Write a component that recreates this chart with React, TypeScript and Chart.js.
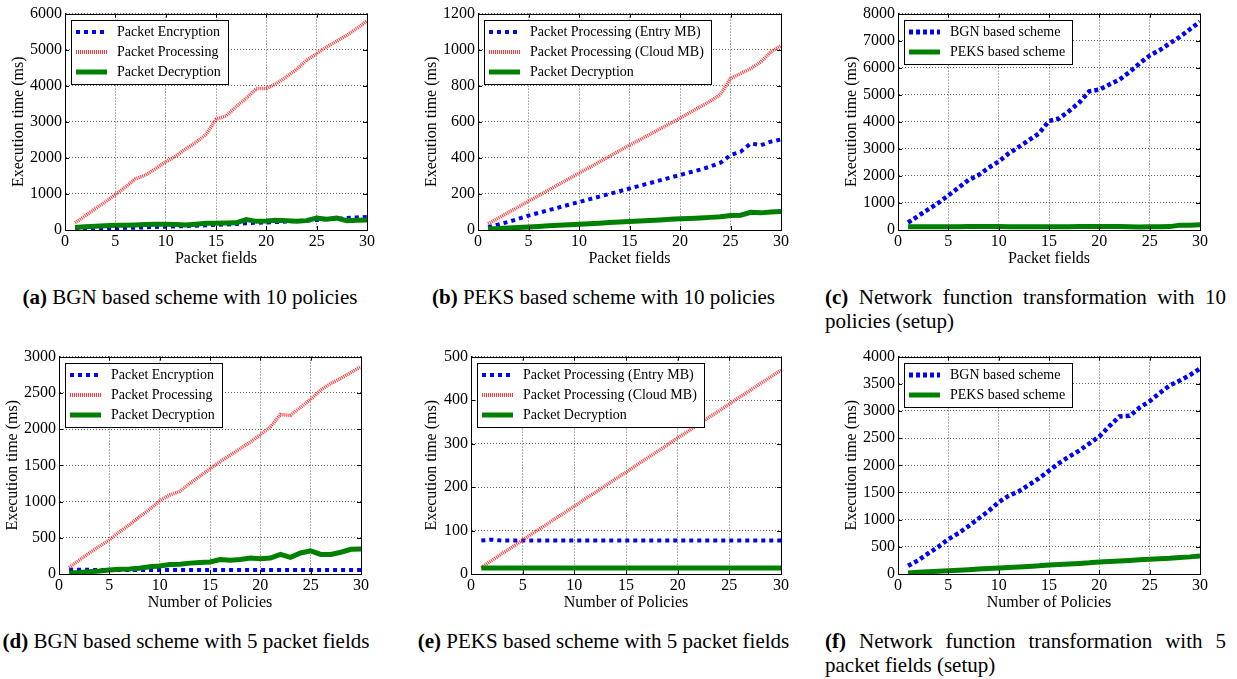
import React, { useEffect, useRef } from "react";
import { Chart, registerables } from "chart.js";

Chart.register(...registerables);
Chart.defaults.font.family = '"Liberation Serif", "Times New Roman", serif';
Chart.defaults.color = "#000";

// ---------- data ----------
const packetFields = [1, 2, 3, 4, 5, 6, 7, 8, 9, 10, 11, 12, 13, 14, 15, 16, 17, 18, 19, 20, 21, 22, 23, 24, 25, 26, 27, 28, 29, 30];
const numPolicies = [1, 2, 3, 4, 5, 6, 7, 8, 9, 10, 11, 12, 13, 14, 15, 16, 17, 18, 19, 20, 21, 22, 23, 24, 25, 26, 27, 28, 29, 30];

// (a) BGN, 10 policies
const aEncryption = [20, 25, 30, 40, 50, 60, 65, 75, 85, 90, 100, 110, 120, 130, 145, 155, 165, 190, 200, 210, 220, 235, 250, 260, 280, 300, 310, 330, 350, 360];
const aProcessing = [200, 390, 590, 780, 980, 1190, 1420, 1520, 1700, 1890, 2050, 2250, 2430, 2650, 3070, 3160, 3420, 3650, 3920, 3920, 4060, 4250, 4450, 4710, 4890, 5080, 5240, 5400, 5590, 5800];
const aDecryption = [70, 90, 105, 120, 130, 135, 140, 150, 160, 160, 150, 140, 160, 185, 190, 195, 200, 290, 240, 250, 270, 260, 240, 260, 330, 300, 330, 260, 270, 280];

// (b) PEKS, 10 policies
const bEntryMB = [15, 30, 45, 62, 80, 95, 110, 125, 140, 155, 170, 185, 200, 215, 230, 245, 260, 275, 290, 305, 320, 335, 352, 373, 415, 434, 480, 470, 490, 502];
const bCloudMB = [35, 65, 97, 128, 160, 190, 222, 253, 284, 315, 346, 377, 408, 439, 470, 500, 530, 560, 590, 620, 652, 683, 714, 751, 840, 868, 895, 932, 988, 1022];
const bDecryption = [5, 8, 11, 14, 17, 20, 23, 26, 29, 32, 35, 38, 41, 44, 47, 50, 53, 56, 59, 62, 64, 67, 70, 73, 80, 82, 98, 95, 100, 102];

// (c) setup, 10 policies
const cBGN = [270, 520, 760, 1000, 1280, 1560, 1850, 2030, 2300, 2530, 2830, 3070, 3320, 3570, 4030, 4120, 4400, 4710, 5130, 5190, 5380, 5560, 5840, 6160, 6450, 6650, 6900, 7140, 7420, 7700];
const cPEKS = [120, 120, 120, 120, 120, 120, 125, 130, 130, 125, 120, 120, 120, 120, 120, 120, 120, 125, 125, 125, 125, 125, 120, 115, 120, 120, 125, 180, 180, 190];

// (d) BGN, 5 packet fields
const dEncryption = [60, 58, 57, 56, 56, 55, 55, 55, 55, 55, 55, 55, 55, 55, 55, 55, 55, 55, 55, 55, 55, 55, 55, 55, 55, 55, 55, 55, 55, 55];
const dProcessing = [90, 190, 290, 380, 470, 580, 680, 790, 890, 1010, 1090, 1140, 1250, 1350, 1450, 1550, 1640, 1730, 1820, 1920, 2030, 2200, 2190, 2300, 2410, 2540, 2630, 2700, 2780, 2860];
const dDecryption = [15, 20, 30, 40, 55, 65, 70, 80, 100, 110, 130, 135, 150, 160, 165, 200, 190, 200, 220, 210, 220, 270, 230, 290, 320, 270, 270, 300, 340, 345];

// (e) PEKS, 5 packet fields
const eEntryMB = [77, 79, 77, 77, 77, 77, 77, 77, 77, 77, 77, 77, 77, 77, 77, 77, 77, 77, 77, 77, 77, 77, 77, 77, 77, 77, 77, 77, 77, 77];
const eCloudMB = [15, 31, 47, 62, 78, 94, 109, 125, 140, 156, 172, 187, 203, 219, 234, 250, 266, 281, 297, 313, 328, 344, 360, 375, 391, 407, 422, 438, 453, 469];
const eDecryption = [14, 14, 14, 14, 14, 14, 14, 14, 14, 14, 14, 14, 14, 14, 14, 14, 14, 14, 14, 14, 14, 14, 14, 14, 14, 14, 14, 14, 14, 14];

// (f) setup, 5 packet fields
const fBGN = [150, 250, 380, 500, 640, 750, 880, 1020, 1160, 1320, 1440, 1520, 1640, 1760, 1900, 2040, 2160, 2270, 2400, 2530, 2720, 2900, 2910, 3060, 3180, 3330, 3470, 3560, 3660, 3780];
const fPEKS = [20, 30, 40, 50, 60, 70, 80, 90, 100, 110, 120, 130, 140, 150, 165, 175, 185, 195, 205, 220, 230, 240, 250, 260, 270, 280, 290, 305, 315, 330];

// ---------- styles ----------
type LineStyle = { color: string; width: number; dash: number[] };
const BLUE_SQ: LineStyle = { color: "#0000ff", width: 4, dash: [4, 4] };
const BLUE_DOT: LineStyle = { color: "#0000ff", width: 4.5, dash: [4, 3] };
const RED: LineStyle = { color: "rgba(255,20,20,0.85)", width: 3.5, dash: [1, 1] };
const GREEN: LineStyle = { color: "#008000", width: 5, dash: [] };
const GRID = "rgba(0,0,0,0.6)";

type Series = { label: string; values: number[]; style: LineStyle };
type PanelSpec = {
  key: string;
  xs: number[];
  xTitle: string;
  yMax: number;
  yStep: number;
  series: Series[];
  plotL: number;
  plotR: number;
  plotT: number;
  plotB: number;
  yAxisW: number;
};

const panels: PanelSpec[] = [
  {
    key: "a", xs: packetFields, xTitle: "Packet fields", yMax: 6000, yStep: 1000,
    series: [
      { label: "Packet Encryption", values: aEncryption, style: BLUE_SQ },
      { label: "Packet Processing", values: aProcessing, style: RED },
      { label: "Packet Decryption", values: aDecryption, style: GREEN },
    ],
    plotL: 65, plotR: 367, plotT: 13, plotB: 230, yAxisW: 56,
  },
  {
    key: "b", xs: packetFields, xTitle: "Packet fields", yMax: 1200, yStep: 200,
    series: [
      { label: "Packet Processing (Entry MB)", values: bEntryMB, style: BLUE_SQ },
      { label: "Packet Processing (Cloud MB)", values: bCloudMB, style: RED },
      { label: "Packet Decryption", values: bDecryption, style: GREEN },
    ],
    plotL: 478, plotR: 781, plotT: 13, plotB: 230, yAxisW: 56,
  },
  {
    key: "c", xs: packetFields, xTitle: "Packet fields", yMax: 8000, yStep: 1000,
    series: [
      { label: "BGN based scheme", values: cBGN, style: BLUE_DOT },
      { label: "PEKS based scheme", values: cPEKS, style: GREEN },
    ],
    plotL: 898, plotR: 1200, plotT: 13, plotB: 230, yAxisW: 56,
  },
  {
    key: "d", xs: numPolicies, xTitle: "Number of Policies", yMax: 3000, yStep: 500,
    series: [
      { label: "Packet Encryption", values: dEncryption, style: BLUE_SQ },
      { label: "Packet Processing", values: dProcessing, style: RED },
      { label: "Packet Decryption", values: dDecryption, style: GREEN },
    ],
    plotL: 59, plotR: 361, plotT: 356, plotB: 574, yAxisW: 56,
  },
  {
    key: "e", xs: numPolicies, xTitle: "Number of Policies", yMax: 500, yStep: 100,
    series: [
      { label: "Packet Processing (Entry MB)", values: eEntryMB, style: BLUE_SQ },
      { label: "Packet Processing (Cloud MB)", values: eCloudMB, style: RED },
      { label: "Packet Decryption", values: eDecryption, style: GREEN },
    ],
    plotL: 471, plotR: 781, plotT: 356, plotB: 574, yAxisW: 49,
  },
  {
    key: "f", xs: numPolicies, xTitle: "Number of Policies", yMax: 4000, yStep: 500,
    series: [
      { label: "BGN based scheme", values: fBGN, style: BLUE_DOT },
      { label: "PEKS based scheme", values: fPEKS, style: GREEN },
    ],
    plotL: 898, plotR: 1200, plotT: 356, plotB: 574, yAxisW: 56,
  },
];

const PAD_T = 12;
const PAD_R = 16;
const X_H = 38;
const FONT = '"Liberation Serif", "Times New Roman", serif';

function framePlugin(p: PanelSpec) {
  return {
    id: "frame_" + p.key,
    afterDraw(chart: any) {
      const ctx = chart.ctx as CanvasRenderingContext2D;
      const ca = chart.chartArea;
      const xs = chart.scales.x;
      const ys = chart.scales.y;
      ctx.save();
      // inward tick marks
      ctx.strokeStyle = "#000";
      ctx.lineWidth = 1;
      ctx.setLineDash([]);
      ctx.beginPath();
      for (let v = 0; v <= 30; v += 5) {
        const px = Math.round(xs.getPixelForValue(v)) + 0.5;
        ctx.moveTo(px, ca.bottom);
        ctx.lineTo(px, ca.bottom - 4);
        ctx.moveTo(px, ca.top);
        ctx.lineTo(px, ca.top + 4);
      }
      for (let v = 0; v <= p.yMax; v += p.yStep) {
        const py = Math.round(ys.getPixelForValue(v)) + 0.5;
        ctx.moveTo(ca.left, py);
        ctx.lineTo(ca.left + 4, py);
        ctx.moveTo(ca.right, py);
        ctx.lineTo(ca.right - 4, py);
      }
      ctx.stroke();
      // frame
      ctx.strokeRect(Math.round(ca.left) + 0.5, Math.round(ca.top) + 0.5, Math.round(ca.right - ca.left), Math.round(ca.bottom - ca.top));

      // legend
      ctx.font = "14px " + FONT;
      let tw = 0;
      p.series.forEach((s) => { tw = Math.max(tw, ctx.measureText(s.label).width); });
      const bx = Math.round(ca.left) + 6;
      const by = Math.round(ca.top) + 6;
      const bw = Math.round(5 + 31 + 10 + tw + 7);
      const bh = 24 + 20 * (p.series.length - 1);
      ctx.fillStyle = "#fff";
      ctx.fillRect(bx, by, bw, bh);
      ctx.strokeStyle = "#000";
      ctx.lineWidth = 1;
      ctx.strokeRect(bx + 0.5, by + 0.5, bw, bh);
      p.series.forEach((s, i) => {
        const yy = by + 12 + 20 * i;
        ctx.beginPath();
        ctx.strokeStyle = s.style.color;
        ctx.lineWidth = Math.round(s.style.width);
        ctx.setLineDash(s.style.dash);
        ctx.lineCap = "butt";
        ctx.moveTo(bx + 5, yy);
        ctx.lineTo(bx + 36, yy);
        ctx.stroke();
        ctx.setLineDash([]);
        ctx.fillStyle = "#000";
        ctx.textBaseline = "middle";
        ctx.textAlign = "left";
        ctx.fillText(s.label, bx + 46, yy + 0.5);
      });
      ctx.restore();
    },
  };
}

function ChartPanel({ p }: { p: PanelSpec }) {
  const ref = useRef<HTMLCanvasElement>(null);
  const left = p.plotL - p.yAxisW;
  const top = p.plotT - PAD_T;
  const width = p.plotR + PAD_R - left;
  const height = p.plotB + X_H - top;

  useEffect(() => {
    if (!ref.current) return;
    const chart = new Chart(ref.current, {
      type: "line",
      data: {
        datasets: p.series.map((s, i) => ({
          label: s.label,
          data: p.xs.map((x, j) => ({ x, y: s.values[j] })),
          borderColor: s.style.color,
          borderWidth: s.style.width,
          borderDash: s.style.dash,
          borderCapStyle: "butt",
          pointRadius: 0,
          tension: 0,
          fill: false,
          order: p.series.length - i,
        })),
      },
      options: {
        responsive: false,
        animation: false,
        events: [],
        layout: { padding: { top: PAD_T, right: PAD_R, left: 0, bottom: 0 } },
        plugins: { legend: { display: false }, tooltip: { enabled: false } },
        scales: {
          x: {
            type: "linear",
            min: 0,
            max: 30,
            ticks: {
              stepSize: 5, padding: 2, font: { size: 16 }, color: "#000", autoSkip: false, maxRotation: 0,
              callback: (v: any) => String(v),
            },
            grid: { color: GRID, lineWidth: 1, drawTicks: false },
            border: { display: true, color: "#000", width: 1, dash: [1, 2] },
            title: { display: true, text: p.xTitle, font: { size: 16 }, padding: 0, color: "#000" },
            afterFit: (s: any) => { s.height = X_H; },
          },
          y: {
            type: "linear",
            min: 0,
            max: p.yMax,
            ticks: {
              stepSize: p.yStep, padding: 3, font: { size: 16 }, color: "#000", autoSkip: false,
              callback: (v: any) => String(v),
            },
            grid: { color: GRID, lineWidth: 1, drawTicks: false },
            border: { display: true, color: "#000", width: 1, dash: [1, 2] },
            title: { display: true, text: "Execution time (ms)", font: { size: 16 }, padding: 0, color: "#000" },
            afterFit: (s: any) => { s.width = p.yAxisW; },
          },
        },
      } as any,
      plugins: [framePlugin(p)],
    });
    return () => chart.destroy();
  }, []);

  return (
    <canvas
      ref={ref}
      width={width}
      height={height}
      style={{ position: "absolute", left, top, width, height }}
    />
  );
}

const captionBase: React.CSSProperties = {
  position: "absolute",
  fontFamily: FONT,
  fontSize: 21,
  lineHeight: "24px",
  color: "#000",
};

export default function App() {
  return (
    <div
      style={{
        position: "fixed",
        left: 0,
        top: 0,
        width: 1237,
        height: 679,
        background: "#fff",
        overflow: "hidden",
      }}
    >
      {panels.map((p) => (
        <ChartPanel key={p.key} p={p} />
      ))}
      <div style={{ ...captionBase, left: 0, top: 285, width: 380, textAlign: "center" }}>
        <b>(a)</b> BGN based scheme with 10 policies
      </div>
      <div style={{ ...captionBase, left: 403, top: 285, width: 401, textAlign: "center" }}>
        <b>(b)</b> PEKS based scheme with 10 policies
      </div>
      <div style={{ ...captionBase, left: 825, top: 285, width: 401, textAlign: "justify", textAlignLast: "left" }}>
        <b>(c)</b> Network function transformation with 10 policies (setup)
      </div>
      <div style={{ ...captionBase, left: 0, top: 629, width: 372, textAlign: "center" }}>
        <b>(d)</b> BGN based scheme with 5 packet fields
      </div>
      <div style={{ ...captionBase, left: 403, top: 629, width: 401, textAlign: "center" }}>
        <b>(e)</b> PEKS based scheme with 5 packet fields
      </div>
      <div style={{ ...captionBase, left: 825, top: 629, width: 401, textAlign: "justify", textAlignLast: "left" }}>
        <b>(f)</b> Network function transformation with 5 packet fields (setup)
      </div>
    </div>
  );
}
